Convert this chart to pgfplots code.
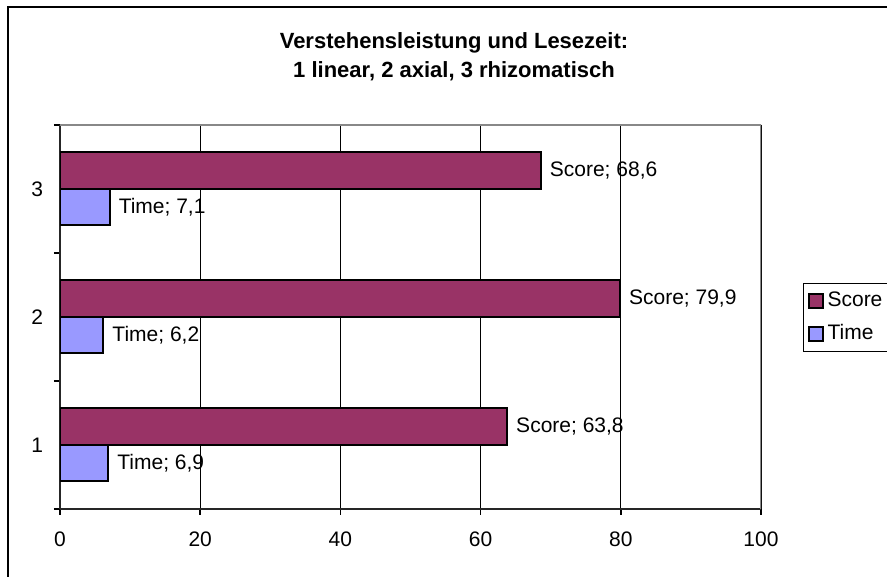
\documentclass[border=0pt]{standalone}
\usepackage{fontspec}
\setmainfont{Liberation Sans}
\usepackage{pgfplots}
\pgfplotsset{compat=1.18}
\definecolor{scorecol}{HTML}{993366}
\definecolor{timecol}{HTML}{9999FF}
\definecolor{bordergray}{HTML}{888888}
\begin{document}
\begin{tikzpicture}
\path[use as bounding box] (0,0) rectangle (443.5pt,288.5pt);
\draw[line width=0.75pt] (4pt,-2pt) -- (4pt,285pt) -- (446pt,285pt);
\node[anchor=base,font=\bfseries\fontsize{11}{13}\selectfont] at (227pt,264pt) {Verstehensleistung und Lesezeit:};
\node[anchor=base,font=\bfseries\fontsize{11}{13}\selectfont] at (227pt,249.5pt) {1 linear, 2 axial, 3 rhizomatisch};
\begin{axis}[
  at={(30pt,34pt)}, anchor=south west,
  scale only axis, width=350.5pt, height=192pt,
  xmin=0, xmax=100, ymin=0.5, ymax=3.5,
  xbar, bar width=18.25pt,
  point meta=x,
  /pgf/number format/assume math mode=true,
  axis x line*=bottom, axis y line*=left,
  axis line style={-, black!85, line width=1pt},
  tick align=outside,
  xtick={0,20,40,60,80,100},
  ytick={1,2,3},
  minor ytick={0.5,1.5,2.5,3.5},
  major tick length=3pt, minor tick length=3pt,
  major y tick style={draw=none},
  minor y tick style={draw=black, line width=0.75pt},
  major x tick style={draw=black, line width=0.75pt},
  xmajorgrids, major grid style={black, line width=0.5pt},
  ticklabel style={font=\fontsize{10.5}{12.5}\selectfont},
  yticklabel style={xshift=-2pt},
  xticklabel style={yshift=-5pt},
  every node near coord/.append style={anchor=west, inner sep=0pt, xshift=4pt, font=\fontsize{10.5}{12.5}\selectfont, text=black},
  legend style={at={(1.06,0.5885)}, anchor=north west, draw=black, line width=0.5pt,
    font=\fontsize{10.5}{12.5}\selectfont, inner xsep=2pt, inner ysep=2.2pt, row sep=3.6pt},
  legend cell align=left,
  legend image code/.code={\draw[#1, line width=1pt] (0pt,-3.5pt) rectangle (7pt,3.5pt);},
]
\addplot[fill=scorecol, draw=black, line width=1pt, bar shift=9.125pt,
  nodes near coords={Score; \pgfmathprintnumber[fixed,fixed zerofill,precision=1,use comma]{\pgfplotspointmeta}}]
  coordinates {(63.8,1) (79.9,2) (68.6,3)};
\addplot[fill=timecol, draw=black, line width=1pt, bar shift=-9.125pt,
  nodes near coords={Time; \pgfmathprintnumber[fixed,fixed zerofill,precision=1,use comma]{\pgfplotspointmeta}}]
  coordinates {(6.9,1) (6.2,2) (7.1,3)};
\legend{Score, Time}
\draw[bordergray, line width=1pt] (rel axis cs:0,1) -- (rel axis cs:1,1) -- (rel axis cs:1,0);
\end{axis}
\end{tikzpicture}
\end{document}
